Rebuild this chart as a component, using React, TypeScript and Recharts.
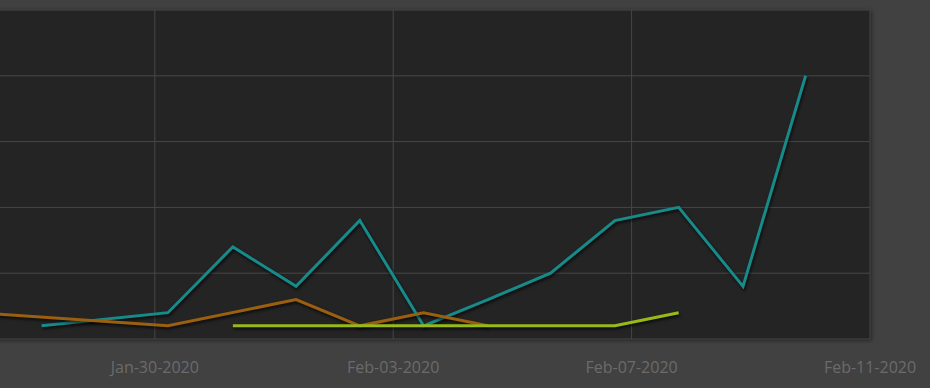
import { LineChart, Line, XAxis, YAxis, CartesianGrid } from 'recharts';

// x positions are days after Jan-30-2020
const days = [-2.97, -1.9, 0.22, 1.31, 2.37, 3.44, 4.51, 5.59, 6.64, 7.72, 8.79, 9.87, 10.92];
const tealValues = [null, 1, 2, 7, 4, 9, 1, 3, 5, 9, 10, 4, 20];
const orangeValues = [2, null, 1, null, 3, 1, 2, 1, null, null, null, null, null];
const greenValues = [null, null, null, 1, 1, 1, 1, 1, 1, 1, 2, null, null];

const tickDays = [0, 4, 8, 12];
const tickLabels = ['Jan-30-2020', 'Feb-03-2020', 'Feb-07-2020', 'Feb-11-2020'];
const yTicks = [5, 10, 15, 20];

const data = days.map((d, i) => ({
    day: d,
    teal: tealValues[i],
    orange: orangeValues[i],
    green: greenValues[i],
}));

const css = `
.recharts-line path { filter: drop-shadow(1px 2px 1.5px rgba(0,0,0,0.7)); }
.recharts-cartesian-grid-bg { filter: drop-shadow(1px 1px 2px rgba(0,0,0,0.6)); }
`;

export default function App() {
    return (
        <div
            style={{
                position: 'absolute',
                left: 0,
                top: 0,
                width: 930,
                height: 388,
                overflow: 'hidden',
                background: '#414141',
            }}
        >
            <style>{css}</style>
            <div style={{ position: 'absolute', left: -60, top: 0 }}>
                <LineChart
                    width={990}
                    height={388}
                    data={data}
                    margin={{ top: 10, right: 60, bottom: 19, left: 36 }}
                >
                    <CartesianGrid stroke="#474747" fill="#242424" />
                    <XAxis
                        dataKey="day"
                        type="number"
                        domain={[-3, 12]}
                        ticks={tickDays}
                        tickFormatter={(v) => tickLabels[tickDays.indexOf(v)]}
                        axisLine={false}
                        tickLine={false}
                        tickSize={0}
                        tickMargin={23}
                        height={30}
                        interval={0}
                        tick={{ fill: '#6b6b6b', fontSize: 16, fontFamily: 'Open Sans' }}
                    />
                    <YAxis hide domain={[0, 25]} ticks={yTicks} />
                    <Line
                        dataKey="teal"
                        stroke="#178a8a"
                        strokeWidth={3}
                        dot={false}
                        connectNulls
                        isAnimationActive={false}
                    />
                    <Line
                        dataKey="orange"
                        stroke="#9a600f"
                        strokeWidth={3}
                        dot={false}
                        connectNulls
                        isAnimationActive={false}
                    />
                    <Line
                        dataKey="green"
                        stroke="#98ba18"
                        strokeWidth={3}
                        dot={false}
                        connectNulls
                        isAnimationActive={false}
                    />
                </LineChart>
            </div>
        </div>
    );
}
